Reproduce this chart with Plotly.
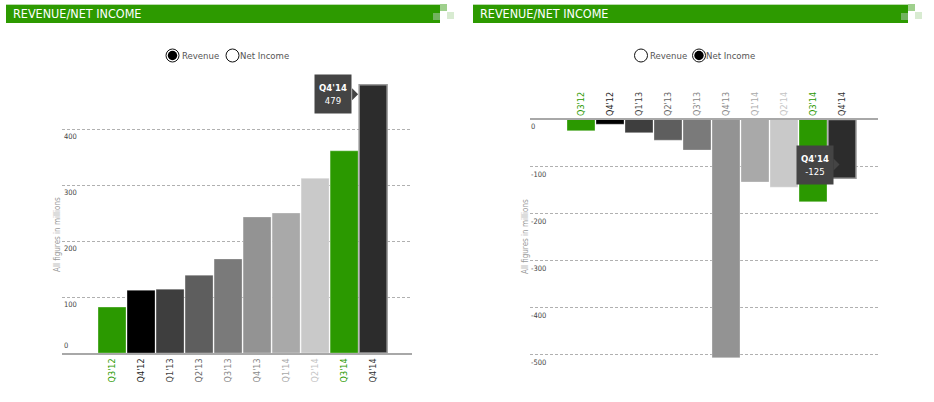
import plotly.graph_objects as go

quarters = ["Q3'12", "Q4'12", "Q1'13", "Q2'13", "Q3'13", "Q4'13", "Q1'14", "Q2'14", "Q3'14", "Q4'14"]
revenue = [82, 112, 114, 139, 168, 243, 250, 312, 361, 479]
net_income = [-24, -10, -28, -44, -65, -507, -133, -144, -175, -125]
bar_colors = ["#2b9900", "#000000", "#3e3e3e", "#5e5e5e", "#7a7a7a",
              "#939393", "#a9a9a9", "#c9c9c9", "#2b9900", "#2c2c2c"]
label_colors = ["#2b9900", "#222222", "#444444", "#666666", "#888888",
                "#8a8a8a", "#aaaaaa", "#c4c4c4", "#2b9900", "#333333"]
rev_ticks = [0, 100, 200, 300, 400]
ni_ticks = [0, -100, -200, -300, -400, -500]
title_text = "REVENUE/NET INCOME"
axis_title = "All figures in millions"
legend_items = ["Revenue", "Net Income"]

W, H = 934, 402
FONT = "Liberation Sans Narrow, DejaVu Sans Condensed, Roboto Condensed, Arial Narrow, sans-serif"
GREEN = "#2d9a00"


def px(x):
    return x / W


def py(y):
    return 1 - y / H


idx = list(range(len(quarters)))
ticktext = [f'<span style="color:{c}">{q}</span>' for q, c in zip(quarters, label_colors)]
line_cols = ["rgba(255,255,255,0.6)"] * 9 + ["#9a9a9a"]
line_w = [0.5] * 9 + [1.5]

fig = go.Figure()
fig.add_trace(go.Bar(x=idx, y=revenue, marker=dict(color=bar_colors, line=dict(color=line_cols, width=line_w)),
                     xaxis="x", yaxis="y", hoverinfo="skip"))
fig.add_trace(go.Bar(x=idx, y=net_income, marker=dict(color=bar_colors, line=dict(color=line_cols, width=line_w)),
                     xaxis="x2", yaxis="y2", hoverinfo="skip"))

grid = dict(showgrid=True, gridcolor="#b0b0b0", griddash="3px,2px", gridwidth=1,
            showticklabels=False, zeroline=False, ticks="")

fig.update_layout(
    width=W, height=H, margin=dict(l=0, r=0, t=0, b=0),
    paper_bgcolor="white", plot_bgcolor="white", showlegend=False,
    bargap=0.035, font=dict(family=FONT),
    xaxis=dict(domain=[px(62), px(412)], range=[-1.724, 10.34], tickmode="array",
               tickvals=idx, ticktext=ticktext, tickangle=-90, ticks="", showgrid=False,
               showline=True, linecolor="#a8a8a8", linewidth=1.5, zeroline=False,
               tickfont=dict(size=9, family=FONT), anchor="y", fixedrange=True),
    yaxis=dict(domain=[py(353), py(73)], range=[0, 500], tickvals=rev_ticks[1:], anchor="x",
               fixedrange=True, **grid),
    xaxis2=dict(domain=[px(530), px(878)], range=[-1.7586, 10.241], tickmode="array",
                tickvals=idx, ticktext=ticktext, tickangle=-90, ticks="", showgrid=False,
                side="top", showline=True, linecolor="#a8a8a8", linewidth=1.5, zeroline=False,
                tickfont=dict(size=9, family=FONT), anchor="y2", fixedrange=True),
    yaxis2=dict(domain=[py(363.9), py(119.5)], range=[-520, 0], tickvals=ni_ticks[1:], anchor="x2",
                fixedrange=True, **grid),
)

shapes = []
annotations = []

# headers
for (x0, x1) in [(6, 440), (473, 908)]:
    shapes.append(dict(type="rect", xref="paper", yref="paper", x0=px(x0), x1=px(x1), y0=py(23), y1=py(4.5),
                       fillcolor=GREEN, line=dict(width=0), layer="above"))
    shapes.append(dict(type="line", xref="paper", yref="paper", x0=px(x0), x1=px(x1), y0=py(4.5), y1=py(4.5),
                       line=dict(color="#b9dbab", width=1)))
    for (sx, sy, col) in [(x1 - 7, 13, "#72b35e"), (x1, 4, "#9fd08d"), (x1 + 7, 12, "#d8ebd1")]:
        shapes.append(dict(type="rect", xref="paper", yref="paper", x0=px(sx), x1=px(sx + 7),
                           y0=py(sy + 7), y1=py(sy), fillcolor=col, line=dict(width=0)))
    annotations.append(dict(text=title_text, xref="paper", yref="paper", x=px(x0 + 5), y=py(14),
                            xanchor="left", yanchor="middle", showarrow=False,
                            font=dict(color="white", size=12.5, family=FONT)))


def radio(cx, cy, selected):
    shapes.append(dict(type="circle", xref="paper", yref="paper", x0=px(cx - 6.5), x1=px(cx + 6.5),
                       y0=py(cy + 6.5), y1=py(cy - 6.5), line=dict(color="#111", width=1),
                       fillcolor="white"))
    if selected:
        shapes.append(dict(type="circle", xref="paper", yref="paper", x0=px(cx - 4.7), x1=px(cx + 4.7),
                           y0=py(cy + 4.7), y1=py(cy - 4.7), line=dict(width=0), fillcolor="#000"))


for (c1, t1, c2, t2, sel) in [(172.5, 180, 232.5, 238, 0), (641, 648, 699, 704, 1)]:
    radio(c1, 55.5, sel == 0)
    radio(c2, 55.5, sel == 1)
    for (tx, txt) in [(t1, legend_items[0]), (t2, legend_items[1])]:
        annotations.append(dict(text=txt, xref="paper", yref="paper", x=px(tx), y=py(55.5),
                                xanchor="left", yanchor="middle", showarrow=False,
                                font=dict(color="#555", size=9.5, family=FONT)))

# y tick labels (inside, below gridlines)
for t in rev_ticks:
    annotations.append(dict(text=str(t), xref="paper", yref="y", x=px(62), y=t,
                            xanchor="left", yanchor="bottom" if t == 0 else "top",
                            yshift=1 if t == 0 else -1, showarrow=False,
                            font=dict(color="#444", size=7.5, family=FONT)))
for t in ni_ticks:
    annotations.append(dict(text=str(t), xref="paper", yref="y2", x=px(529), y=t,
                            xanchor="left", yanchor="top", yshift=-1, showarrow=False,
                            font=dict(color="#444", size=7.5, family=FONT)))

# axis titles
for (ax, ay) in [(58, 235), (525, 237)]:
    annotations.append(dict(text=axis_title, xref="paper", yref="paper", x=px(ax), y=py(ay),
                            textangle=-90, showarrow=False, xanchor="center", yanchor="middle",
                            font=dict(color="#9a9a9a", size=8, family=FONT)))

# tooltips
last = len(quarters) - 1
for (xr, yr, yval, val, xs) in [("x", "y", 462, revenue[last], -21), ("x2", "y2", -96, net_income[last], -8.5)]:
    annotations.append(dict(text=f"<b>{quarters[last]}</b><br>{val}", xref=xr, yref=yr, x=last, y=yval,
                            xanchor="right", yanchor="middle", xshift=xs, showarrow=False,
                            bgcolor="#444444", width=36, height=38, borderpad=0,
                            font=dict(color="white", size=9.5, family=FONT)))
    shapes.append(dict(type="path", xref=xr, yref=yr, xsizemode="pixel", ysizemode="pixel",
                       xanchor=last, yanchor=yval,
                       path=f"M {xs},6 L {xs + 6},0 L {xs},-6 Z",
                       fillcolor="#444444", line=dict(width=0)))

fig.update_layout(shapes=shapes, annotations=annotations)
fig.write_html("out.html")
